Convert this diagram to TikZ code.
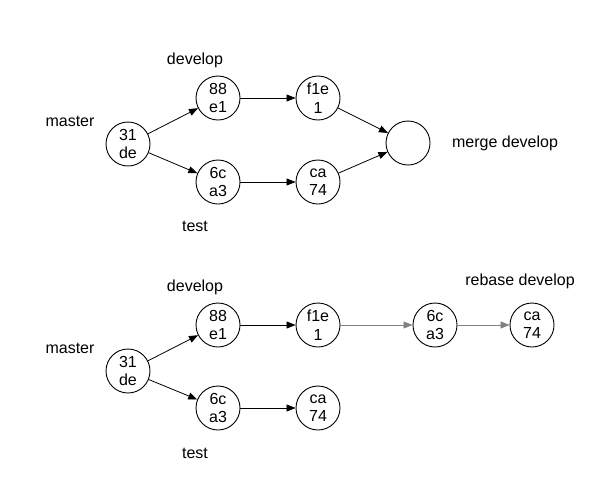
\documentclass[tikz,border=0pt]{standalone}
\usepackage{fontspec}
\setmainfont{Liberation Sans}
\usetikzlibrary{arrows.meta}
\begin{document}
\begin{tikzpicture}[x=1pt,y=-1pt,
  commit/.style={circle,draw,line width=0.9pt,minimum size=44pt,inner sep=0pt,align=center,font=\fontsize{16}{18.5}\selectfont},
  lbl/.style={font=\fontsize{16}{18}\selectfont},
  arr/.style={-{Triangle[length=9pt,width=7pt]},line width=0.8pt},
  garr/.style={arr,draw=gray,-{Triangle[length=9pt,width=7pt,fill=gray]}}]
\useasboundingbox (0,0) rectangle (609,501);
% top
\node[commit] (a1) at (128,144) {31\\de};
\node[commit] (b1) at (218,98) {88\\e1};
\node[commit] (c1) at (318,98) {f1e\\1};
\node[commit] (d1) at (218,182) {6c\\a3};
\node[commit] (e1) at (318,182) {ca\\74};
\node[commit] (m1) at (408,143) {};
\node[lbl] (dev1) at (195,60) {develop};
\node[lbl] (mas1) at (70,121) {master};
\node[lbl] (tst1) at (195,226) {test};
\node[lbl] (mrg) at (505,143) {merge develop};
\draw[arr] (a1) -- (b1);
\draw[arr] (a1) -- (d1);
\draw[arr] (b1) -- (c1);
\draw[arr] (d1) -- (e1);
\draw[arr] (c1) -- (m1);
\draw[arr] (e1) -- (m1);
% bottom
\node[commit] (a2) at (128,371) {31\\de};
\node[commit] (b2) at (218,325) {88\\e1};
\node[commit] (c2) at (318,325) {f1e\\1};
\node[commit] (d2) at (218,408) {6c\\a3};
\node[commit] (e2) at (318,408) {ca\\74};
\node[commit] (f2) at (435,325) {6c\\a3};
\node[commit] (g2) at (532,325) {ca\\74};
\node[lbl] (dev2) at (195,287) {develop};
\node[lbl] (mas2) at (70,348) {master};
\node[lbl] (tst2) at (195,453) {test};
\node[lbl] (reb) at (520,281) {rebase develop};
\draw[arr] (a2) -- (b2);
\draw[arr] (a2) -- (d2);
\draw[arr] (b2) -- (c2);
\draw[arr] (d2) -- (e2);
\draw[garr] (c2) -- (f2);
\draw[garr] (f2) -- (g2);
\end{tikzpicture}
\end{document}
